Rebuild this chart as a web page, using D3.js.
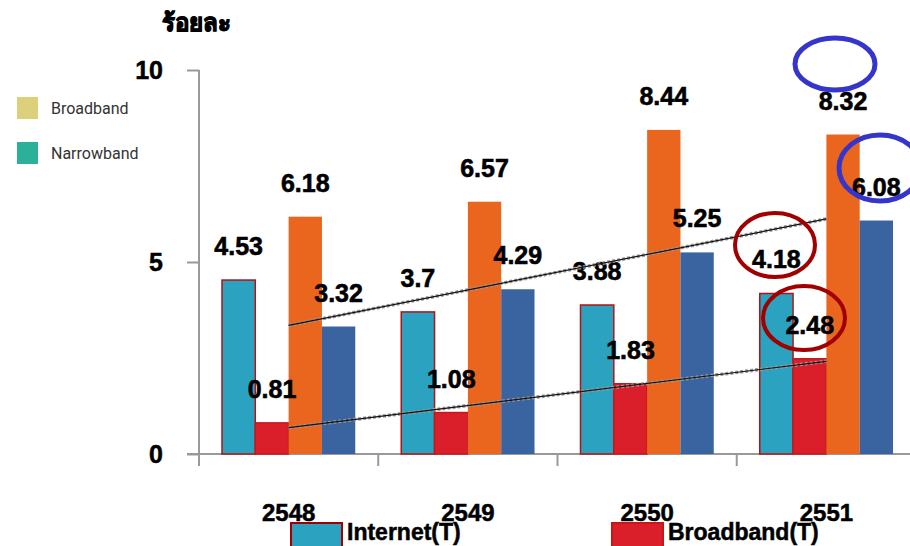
<!DOCTYPE html>
<html>
<head>
<meta charset="utf-8">
<script src="https://cdn.jsdelivr.net/npm/d3@7"></script>
<style>
  html, body { margin: 0; padding: 0; background: #fff; }
  svg { display: block; }
</style>
</head>
<body>
<svg id="chart" width="910" height="546"></svg>
<script>
// Years (Thai Buddhist calendar) and the four bar series per year
const years = ["2548", "2549", "2550", "2551"];
const internetT = [4.53, 3.7, 3.88, 4.18];
const broadbandT = [0.81, 1.08, 1.83, 2.48];
const seriesOrange = [6.18, 6.57, 8.44, 8.32];
const seriesBlue = [3.32, 4.29, 5.25, 6.08];
const yTicks = [0, 5, 10];
const yTitle = "ร้อยละ";
const sideLegend = ["Broadband", "Narrowband"];
const bottomLegend = ["Internet(T)", "Broadband(T)"];

const seriesKeys = ["internet", "broadband", "orange", "blue"];
const seriesValues = { internet: internetT, broadband: broadbandT, orange: seriesOrange, blue: seriesBlue };
const fills = { internet: "#2ba3c0", broadband: "#da1f2a", orange: "#ea661e", blue: "#3a64a0" };
const strokes = { internet: "#b01414", broadband: "#c41818", orange: "none", blue: "none" };

const svg = d3.select("#chart");
const labelFont = "'Liberation Sans', Arial, sans-serif";

// Scales
const y = d3.scaleLinear().domain([0, 10]).range([454, 70]);
const x0 = d3.scaleBand().domain(years).range([199, 916]).paddingInner(0).paddingOuter(0);
const x1 = d3.scaleBand().domain(seriesKeys).range([0, x0.bandwidth()]).paddingInner(0).paddingOuter(0.69);

// Y axis
const yAxis = d3.axisLeft(y).tickValues(yTicks).tickSize(12).tickPadding(24).tickFormat(d3.format("d"));
const gy = svg.append("g").attr("transform", "translate(199,0)").call(yAxis);
gy.select(".domain").remove();
gy.selectAll(".tick line").attr("stroke", "#999").attr("stroke-width", 2);
gy.selectAll(".tick text")
  .attr("font-family", labelFont).attr("font-size", 25).attr("font-weight", "bold")
  .attr("fill", "#000").attr("stroke", "#000").attr("stroke-width", 0.5);
svg.append("line").attr("x1", 199).attr("x2", 199).attr("y1", y(10)).attr("y2", 466)
  .attr("stroke", "#999").attr("stroke-width", 2);

// X axis baseline, boundary ticks and year labels
svg.append("line").attr("x1", 187).attr("x2", 910).attr("y1", y(0)).attr("y2", y(0))
  .attr("stroke", "#999").attr("stroke-width", 2);
svg.append("g").selectAll("line").data(years.slice(1)).join("line")
  .attr("x1", d => x0(d)).attr("x2", d => x0(d))
  .attr("y1", y(0)).attr("y2", 466)
  .attr("stroke", "#999").attr("stroke-width", 2);
const xAxis = d3.axisBottom(x0).tickSize(0).tickPadding(50);
const gx = svg.append("g").attr("transform", `translate(0,${y(0)})`).call(xAxis);
gx.select(".domain").remove();
gx.selectAll(".tick text")
  .attr("font-family", labelFont).attr("font-size", 24).attr("font-weight", "bold")
  .attr("fill", "#000").attr("stroke", "#000").attr("stroke-width", 0.5);

// Bars
const rows = years.map((yr, i) => ({ year: yr, items: seriesKeys.map(k => ({ key: k, value: seriesValues[k][i] })) }));
const groups = svg.append("g").selectAll("g").data(rows).join("g")
  .attr("transform", d => `translate(${x0(d.year)},0)`);
groups.selectAll("rect").data(d => d.items).join("rect")
  .attr("x", d => x1(d.key))
  .attr("y", d => y(d.value))
  .attr("width", x1.bandwidth())
  .attr("height", d => y(0) - y(d.value))
  .attr("fill", d => fills[d.key])
  .attr("stroke", d => strokes[d.key])
  .attr("stroke-width", 1.5);

// Linear trend lines for the blue and red series
function trend(vals) {
  const n = vals.length;
  const mx = d3.mean(vals, (v, i) => i);
  const my = d3.mean(vals);
  const sxy = d3.sum(vals, (v, i) => (i - mx) * (v - my));
  const sxx = d3.sum(vals, (v, i) => (i - mx) * (i - mx));
  const b = sxy / sxx;
  const a = my - b * mx;
  return [a, a + b * (n - 1)];
}
const tx0 = x0(years[0]) + x1("orange");
const tx1 = x0(years[years.length - 1]) + x1("orange");
[seriesBlue, broadbandT].forEach(vals => {
  const [v0, v1] = trend(vals);
  svg.append("line").attr("x1", tx0).attr("x2", tx1).attr("y1", y(v0)).attr("y2", y(v1))
    .attr("stroke", "#9a9a9a").attr("stroke-width", 3.5).attr("stroke-dasharray", "3,2");
  svg.append("line").attr("x1", tx0).attr("x2", tx1).attr("y1", y(v0)).attr("y2", y(v1))
    .attr("stroke", "#111").attr("stroke-width", 1.2);
});

// Value labels above each bar
groups.selectAll("text").data(d => d.items).join("text")
  .attr("x", d => x1(d.key) + x1.bandwidth() / 2)
  .attr("y", d => y(d.value) - 25)
  .attr("text-anchor", "middle")
  .attr("font-family", labelFont).attr("font-size", 25).attr("font-weight", "bold")
  .attr("fill", "#000").attr("stroke", "#000").attr("stroke-width", 0.6)
  .text(d => d.value);

// Axis title
svg.append("text").attr("x", 162).attr("y", 31)
  .attr("font-family", "'Noto Sans', 'DejaVu Sans', sans-serif").attr("font-size", 24).attr("font-weight", "900")
  .attr("fill", "#000").attr("stroke", "#000").attr("stroke-width", 1)
  .text(yTitle);

// Side legend
const sideColors = ["#dcd07a", "#2bb09a"];
const sl = svg.append("g").selectAll("g").data(sideLegend).join("g")
  .attr("transform", (d, i) => `translate(17,${97 + i * 45})`);
sl.append("rect").attr("width", 21).attr("height", 22).attr("fill", (d, i) => sideColors[i]);
sl.append("text").attr("x", 34).attr("y", 17)
  .attr("font-family", "Roboto, 'Noto Sans', sans-serif").attr("font-size", 16)
  .attr("fill", "#333").text(d => d);

// Bottom legend
const bottomKeys = ["internet", "broadband"];
const bottomX = [290, 611];
const bl = svg.append("g").selectAll("g").data(bottomLegend).join("g")
  .attr("transform", (d, i) => `translate(${bottomX[i]},522)`);
bl.append("rect").attr("x", 1).attr("y", 1).attr("width", 51).attr("height", 24)
  .attr("fill", (d, i) => fills[bottomKeys[i]])
  .attr("stroke", (d, i) => i === 0 ? "#a00000" : "#c41818").attr("stroke-width", 2);
bl.append("text").attr("x", 57).attr("y", 18)
  .attr("font-family", labelFont).attr("font-size", 23).attr("font-weight", "bold")
  .attr("fill", "#000").attr("stroke", "#000").attr("stroke-width", 0.5)
  .text(d => d);

// Hand-drawn highlight rings
const rings = [
  { cx: 835, cy: 64, rx: 40, ry: 26, color: "#3535cc", w: 5 },
  { cx: 880, cy: 168, rx: 41, ry: 33, color: "#3535cc", w: 5 },
  { cx: 775, cy: 245, rx: 40, ry: 32, color: "#a00000", w: 4 },
  { cx: 804, cy: 318, rx: 41, ry: 32, color: "#a00000", w: 4 }
];
svg.append("g").selectAll("ellipse").data(rings).join("ellipse")
  .attr("cx", d => d.cx).attr("cy", d => d.cy).attr("rx", d => d.rx).attr("ry", d => d.ry)
  .attr("fill", "none").attr("stroke", d => d.color).attr("stroke-width", d => d.w);
</script>
</body>
</html>
